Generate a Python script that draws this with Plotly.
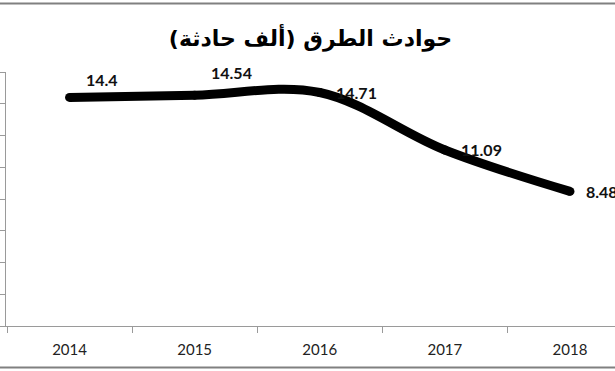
import plotly.graph_objects as go

years = [2014, 2015, 2016, 2017, 2018]
values = [14.4, 14.54, 14.71, 11.09, 8.48]
labels = ["14.4", "14.54", "14.71", "11.09", "8.48"]
label_yshift = [18, 23, 0, 0, 0]
title_text = "حوادث الطرق (ألف حادثة)"

fig = go.Figure()
fig.add_trace(go.Scatter(
    x=years, y=values, mode="lines+markers",
    line=dict(color="black", width=9, shape="spline", smoothing=1.0),
    marker=dict(color="black", size=9),
    hoverinfo="skip", showlegend=False,
))

for x, y, t, ys in zip(years, values, labels, label_yshift):
    fig.add_annotation(x=x, y=y, text="<b>%s</b>" % t, showarrow=False,
                       xanchor="left", yanchor="middle", xshift=14, yshift=ys,
                       font=dict(family="Lato", size=16, color="#111"))

axis_col = "#9a9a9a"
fig.update_layout(
    width=615, height=371,
    margin=dict(l=6, r=0, t=72, b=45),
    paper_bgcolor="white", plot_bgcolor="white",
    title=dict(text="<b>%s</b>" % title_text, x=0.5, xref="paper", xanchor="center",
               y=1 - 38 / 371, yref="container", yanchor="middle",
               font=dict(family="DejaVu Sans", size=22, color="black")),
    xaxis=dict(range=[2013.492, 2018.36], tickvals=years, ticktext=[str(y) for y in years],
               ticks="", showgrid=False, zeroline=False, showline=True,
               linecolor=axis_col, linewidth=1, ticklabelstandoff=10,
               tickfont=dict(family="Lato", size=15, color="#222"),
               minor=dict(tick0=2013.5, dtick=1, ticks="outside", ticklen=6,
                          tickcolor=axis_col, showgrid=False)),
    yaxis=dict(range=[0, 16], dtick=2, tick0=0, ticks="outside", ticklen=5,
               tickcolor=axis_col, showticklabels=False, showgrid=False,
               zeroline=False, showline=True, linecolor=axis_col, linewidth=1),
)

fig.add_shape(type="line", xref="paper", yref="paper", x0=-0.02, x1=1.0,
              y0=1.2697, y1=1.2697, line=dict(color="#808080", width=2))
fig.add_shape(type="line", xref="paper", yref="paper", x0=-0.02, x1=1.0,
              y0=-0.1634, y1=-0.1634, line=dict(color="#808080", width=2))

fig.write_html("out.html")
